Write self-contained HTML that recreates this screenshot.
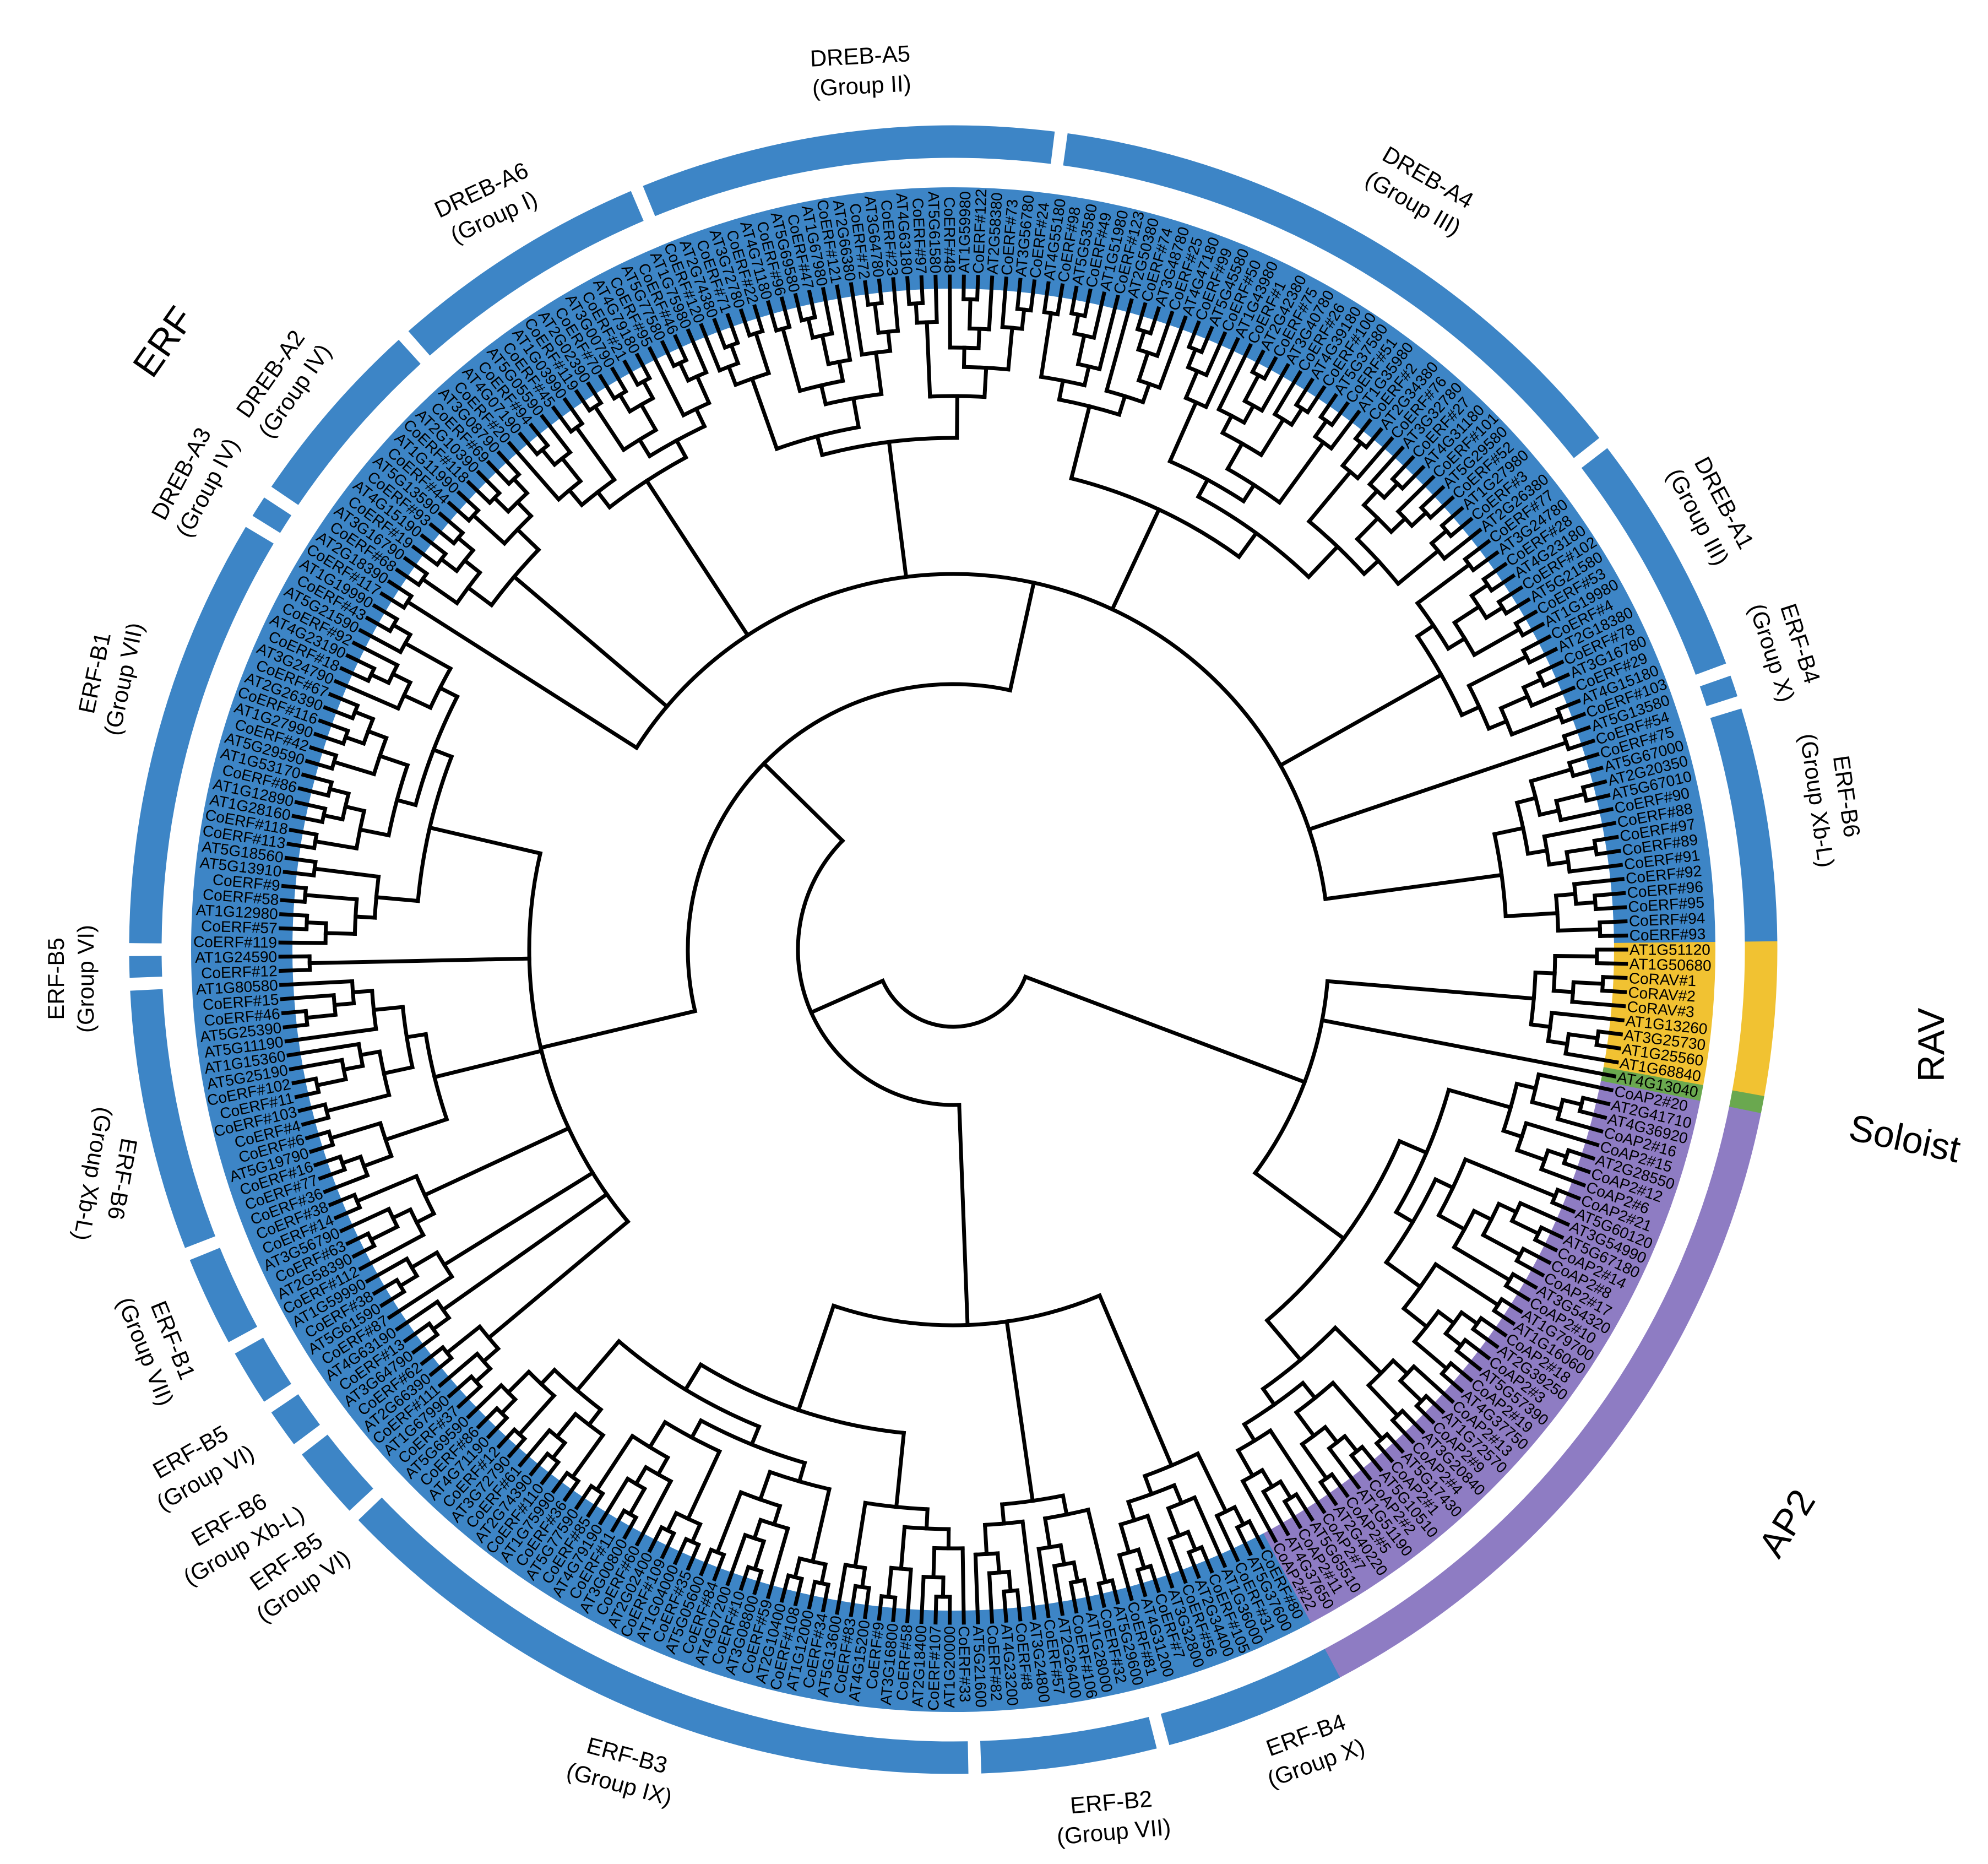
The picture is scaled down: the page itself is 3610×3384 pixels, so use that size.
<!DOCTYPE html>
<html><head><meta charset="utf-8">
<style>
html,body{margin:0;padding:0;background:#fff;}
svg{display:block;font-family:"Liberation Sans",Arial,sans-serif;}
</style></head>
<body>
<svg id="chart" width="3610" height="3384" viewBox="0 0 3610 3384" xmlns="http://www.w3.org/2000/svg">
<rect width="3610" height="3384" fill="#fff"/>
<g id="disk"></g>
<g id="ring"></g>
<g id="tree" fill="none" stroke="#000" stroke-width="7" stroke-linecap="square"></g>
<g id="leaves" font-size="28" fill="#000"></g>
<g id="glabels" fill="#000"></g>
</svg>
<script>
// ---- data ----
const cladeNames=["RAV","Soloist","AP2","ERF-B4","ERF-B2","ERF-B3","ERF-B5","ERF-B6","ERF-B5","ERF-B1","ERF-B6","ERF-B5","ERF-B1","DREB-A3","DREB-A2","DREB-A6","DREB-A5","DREB-A4","DREB-A1","ERF-B4","ERF-B6"];
const cladeFamily=["RAV","Soloist","AP2","ERF","ERF","ERF","ERF","ERF","ERF","ERF","ERF","ERF","ERF","ERF","ERF","ERF","ERF","ERF","ERF","ERF","ERF"];
const cladeSizes=[9,1,42,11,11,40,5,3,4,6,16,2,26,2,12,16,25,37,15,2,14];
const gapAfter=[false,false,false,true,true,true,true,true,true,true,true,true,true,true,true,true,true,true,true,true,false];
const backbone=[[0,1,2],[[3,4,5],[[6,7,8,9,10,11,12],[13,14,15,16,17,18,19,20]]]];
const splitFracs=[0.5,0.35,0.6,0.3,0.55,0.25,0.65];
const ravNames=["AT1G51120","AT1G50680","CoRAV#1","CoRAV#2","CoRAV#3","AT1G13260","AT3G25730","AT1G25560","AT1G68840"];
const soloNames=["AT4G13040"];
const apNames=["CoAP2#20","AT2G41710","AT4G36920","CoAP2#16","CoAP2#15","AT2G28550","CoAP2#12","CoAP2#6","CoAP2#21","AT5G60120","AT3G54990","AT5G67180","CoAP2#14","CoAP2#8","CoAP2#17","AT3G54320","CoAP2#10","AT1G79700","AT1G16060","CoAP2#18","AT2G39250","CoAP2#3","AT5G57390","CoAP2#19","AT4G37750","CoAP2#13","AT1G72570","CoAP2#9","AT3G20840","CoAP2#4","AT5G17430","CoAP2#1","AT5G10510","CoAP2#2","AT1G51190","CoAP2#5","AT2G40220","CoAP2#7","AT5G65510","CoAP2#11","AT4G37650","CoAP2#22"];
const rightB6Names=["CoERF#75","AT5G67000","AT2G20350","AT5G67010","CoERF#90","CoERF#88","CoERF#97","CoERF#89","CoERF#91","CoERF#92","CoERF#96","CoERF#95","CoERF#94","CoERF#93"];
const leftNames=["AT1G53170","CoERF#86","AT1G12890","AT1G28160","CoERF#118","CoERF#113","AT5G18560","AT5G13910","CoERF#9","CoERF#58","AT1G12980","CoERF#57","CoERF#119","AT1G24590","CoERF#12","AT1G80580","CoERF#15","CoERF#46","AT5G25390","AT5G11190","AT1G15360","AT5G25190","CoERF#102","CoERF#11","CoERF#103","CoERF#4","CoERF#6","AT5G19790","CoERF#16","CoERF#77","CoERF#36","CoERF#38"];
// ---- layout ----
const cx=1731, cy=1724, start=89.4, Rtip=1222, step=41;
const N=cladeSizes.reduce((a,b)=>a+b,0);
const da=360/N;
const famColor={RAV:"#f1c232",Soloist:"#6aa84f",AP2:"#8e7cc3",ERF:"#3d85c6"};
const NS="http://www.w3.org/2000/svg";
function P(r,a){const t=a*Math.PI/180;return [cx+r*Math.sin(t),cy-r*Math.cos(t)];}
function arcD(r,a1,a2){const p=P(r,a1),q=P(r,a2);return `M${p[0].toFixed(1)} ${p[1].toFixed(1)}A${r} ${r} 0 ${(a2-a1)>180?1:0} 1 ${q[0].toFixed(1)} ${q[1].toFixed(1)}`;}
function mk(tag,parent,attrs){const e=document.createElementNS(NS,tag);for(const k in attrs)e.setAttribute(k,attrs[k]);parent.appendChild(e);return e;}
const gDisk=document.getElementById('disk'),gRing=document.getElementById('ring'),gTree=document.getElementById('tree'),gLeaves=document.getElementById('leaves');
const names=[];
function genName(i){return i%2===0?("CoERF#"+((i*37)%123+1)):("AT"+(1+(i*3)%5)+"G"+String(((i*7919)%7999)*10+10).padStart(5,"0"));}
for(let i=0;i<N;i++)names.push(genName(i));
const offs=[];let o=0;for(const s of cladeSizes){offs.push(o);o+=s;}
ravNames.forEach((n,k)=>names[offs[0]+k]=n);
soloNames.forEach((n,k)=>names[offs[1]+k]=n);
apNames.forEach((n,k)=>{if(k<cladeSizes[2])names[offs[2]+k]=n;});
rightB6Names.forEach((n,k)=>names[offs[20]+k]=n);
leftNames.forEach((n,k)=>{const j=162-k;if(j>=0&&j<N)names[j]=n;});
cladeSizes.forEach((s,c)=>{
  const a1=start+offs[c]*da,a2=a1+s*da;
  const d=mk('path',gDisk,{d:arcD(1292,a1,a2+0.02),stroke:famColor[cladeFamily[c]],'stroke-width':184,fill:'none'});
  
  
  const b1=a1+(c>0&&gapAfter[c-1]?0.45:0);
  const b2=a2-(gapAfter[c]?0.45:0);
  const r=mk('path',gRing,{d:arcD(1467,b1,b2+(gapAfter[c]?0:0.02)),stroke:famColor[cladeFamily[c]],'stroke-width':59,fill:'none'});
  
  
});
function build(lo,hi,d){
  if(hi-lo===1)return {leaf:lo,ang:start+(lo+0.5)*da,r:Rtip,h:0};
  const n=hi-lo,f=splitFracs[d%splitFracs.length];
  const k=Math.max(1,Math.min(n-1,Math.round(n*f)));
  const kids=[build(lo,lo+k,d+1),build(lo+k,hi,d+1)];
  const h=Math.max(kids[0].h,kids[1].h)+1;
  return {kids,h,r:Rtip-h*step-(d%3)*6,ang:(kids[0].ang+kids[1].ang)/2};
}
const cladeRoots=cladeSizes.map((s,c)=>build(offs[c],offs[c]+s,c));
function bb(node){
  if(typeof node==="number")return cladeRoots[node];
  const kids=node.map(bb);
  const mr=Math.min(...kids.map(k=>k.r));
  return {kids,r:Math.max(140,mr-200),ang:(kids[0].ang+kids[kids.length-1].ang)/2};
}
const root=bb(backbone);
function draw(n){
  if(!n.kids)return;
  const a1=n.kids[0].ang,a2=n.kids[n.kids.length-1].ang;
  const arc=mk('path',gTree,{d:arcD(n.r,a1,a2)});
  
  
  n.kids.forEach(k=>{
    const p=P(n.r,k.ang),q=P(k.r,k.ang);
    const l=mk('line',gTree,{x1:p[0].toFixed(1),y1:p[1].toFixed(1),x2:q[0].toFixed(1),y2:q[1].toFixed(1)});
    
    
    draw(k);
  });
}
draw(root);
for(let i=0;i<N;i++){
  const a=start+(i+0.5)*da, an=((a%360)+360)%360;
  const right=an<180;
  const t=mk('text',gLeaves,{transform:`translate(${cx},${cy}) rotate(${(a-90).toFixed(2)}) translate(${Rtip+6},0)`+(right?'':' rotate(180)'),'text-anchor':right?'start':'end','dominant-baseline':'central'});
  t.textContent=names[i];
  
  
}
const S=2.314;
const gl=[
 ["DREB-A5","(Group II)",675,45,-3],["DREB-A4","(Group III)",1120,140,30],["DREB-A1","(Group III)",1352,395,62],
 ["ERF-B4","(Group X)",1412,505,72],["ERF-B6","(Group Xb-L)",1448,625,82],["DREB-A6","(Group I)",378,150,-25],
 ["DREB-A2","(Group IV)",213,294,-55],["DREB-A3","(Group IV)",143,372,-62],["ERF-B1","(Group VII)",75,528,-78],
 ["ERF-B5","(Group VI)",45,768,-90],["ERF-B6","(Group Xb-L)",95,925,100],["ERF-B1","(Group VII)",135,1052,68],
 ["ERF-B5","(Group VI)",150,1140,-30],["ERF-B6","(Group Xb-L)",180,1193,-30],["ERF-B5","(Group VI)",225,1226,-35],
 ["ERF-B3","(Group IX)",492,1378,15],["ERF-B2","(Group VII)",872,1415,-5],["ERF-B4","(Group X)",1025,1362,-20]];
const gG=document.getElementById('glabels');
gl.forEach(L=>{
  const g=mk('g',gG,{transform:`translate(${(L[2]*S).toFixed(0)},${(L[3]*S).toFixed(0)}) rotate(${L[4]})`,'text-anchor':'middle','font-size':42});
  
  
  const t1=mk('text',g,{x:0,y:12});t1.textContent=L[0];
  
  
  const t2=mk('text',g,{x:0,y:66});t2.textContent=L[1];
  
  
});
const big=[["ERF",128,268,-55],["RAV",1515,820,-90],["Soloist",1495,893,12],["AP2",1402,1195,-58]];
big.forEach(B=>{
  const t=mk('text',gG,{transform:`translate(${(B[1]*S).toFixed(0)},${(B[2]*S).toFixed(0)}) rotate(${B[3]})`,'text-anchor':'middle','font-size':68,y:24});
  t.textContent=B[0];
  
  
});
</script>
</body></html>
